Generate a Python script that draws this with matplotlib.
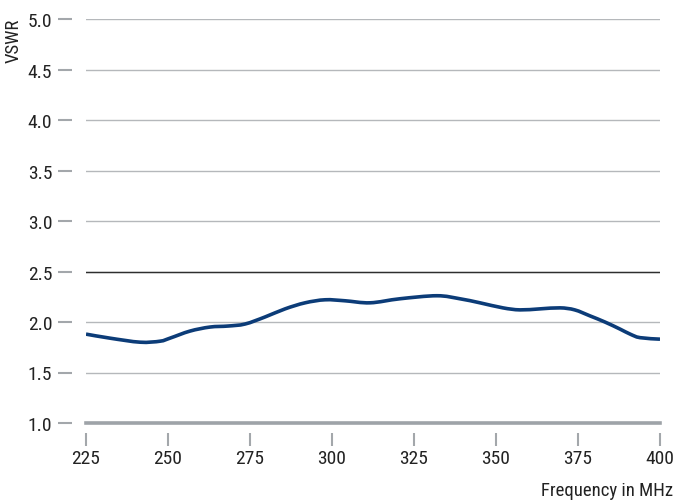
import matplotlib
matplotlib.use("Agg")
import matplotlib.pyplot as plt
from matplotlib.path import Path
from matplotlib.patches import PathPatch

plt.rcParams['font.family'] = ['Roboto Condensed', 'Liberation Sans Narrow',
                               'Liberation Sans', 'DejaVu Sans']

# VSWR sweep, read every few MHz
freq_mhz = [225, 232.3, 241.5, 247.6, 250.6, 256.7, 262.8, 268.3, 273.5, 279.6,
            285.7, 291.8, 297.9, 304, 311.6, 320.7, 332, 339, 345.1, 352.1,
            357.3, 363.4, 369.5, 374, 378.7, 383.2, 387.8, 390.9, 393.9, 400]
vswr = [1.88, 1.84, 1.80, 1.81, 1.84, 1.91, 1.95, 1.96, 1.98, 2.05,
        2.13, 2.19, 2.22, 2.21, 2.19, 2.23, 2.26, 2.23, 2.19, 2.14,
        2.12, 2.13, 2.14, 2.12, 2.06, 2.00, 1.93, 1.88, 1.845, 1.83]

x_ticks = [225, 250, 275, 300, 325, 350, 375, 400]
y_ticks = [1.0, 1.5, 2.0, 2.5, 3.0, 3.5, 4.0, 4.5, 5.0]
limit_vswr = 2.5


def smooth_path(xs, ys):
    # Catmull-Rom through the points, emitted as cubic Bezier segments
    pts = list(zip(xs, ys))
    verts = [pts[0]]
    codes = [Path.MOVETO]
    n = len(pts)
    for i in range(n - 1):
        p0 = pts[max(i - 1, 0)]
        p1 = pts[i]
        p2 = pts[i + 1]
        p3 = pts[min(i + 2, n - 1)]
        c1 = (p1[0] + (p2[0] - p0[0]) / 6, p1[1] + (p2[1] - p0[1]) / 6)
        c2 = (p2[0] - (p3[0] - p1[0]) / 6, p2[1] - (p3[1] - p1[1]) / 6)
        verts += [c1, c2, p2]
        codes += [Path.CURVE4] * 3
    return Path(verts, codes)


W, H = 675, 502
fig = plt.figure(figsize=(W / 100, H / 100), dpi=100)
ax = fig.add_axes([86 / W, 78 / H, 574 / W, 404 / H])
ax.set_xlim(225, 400)
ax.set_ylim(1.0, 5.0)

for s in ax.spines.values():
    s.set_visible(False)
ax.spines['left'].set_position(('outward', 10))
ax.spines['bottom'].set_position(('outward', 7))

grid_col = '#b5b8bb'
tick_col = '#a3a7ab'
for y in y_ticks[1:]:
    ax.axhline(y, color=grid_col, lw=1.0, zorder=1)
ax.axhline(1.0, color='#9ea3a8', lw=2.6, zorder=2, clip_on=False)
ax.axhline(limit_vswr, color='#2e2e2e', lw=1.0, zorder=2)

ax.add_patch(PathPatch(smooth_path(freq_mhz, vswr), fill=False,
                       edgecolor='#0c3c78', lw=2.6, zorder=3, capstyle='butt'))

ax.set_xticks(x_ticks)
ax.set_xticklabels([str(t) for t in x_ticks])
ax.set_yticks(y_ticks)
ax.set_yticklabels([f'{t:.1f}' for t in y_ticks])
ax.tick_params(axis='y', length=9.75, width=1.5, color=tick_col, pad=4.5,
               labelsize=14, labelcolor='#222222')
ax.tick_params(axis='x', length=9, width=1.5, color=tick_col, pad=3,
               labelsize=14, labelcolor='#222222')

fig.text(673 / W, 1 - 491 / H, 'Frequency in MHz', ha='right', va='center',
         fontsize=13.5, color='#222222')
fig.text(14 / W, 1 - 19 / H, 'VSWR', ha='center', va='top', rotation=90,
         fontsize=13.5, color='#222222')

fig.savefig('out.png', dpi=100)
